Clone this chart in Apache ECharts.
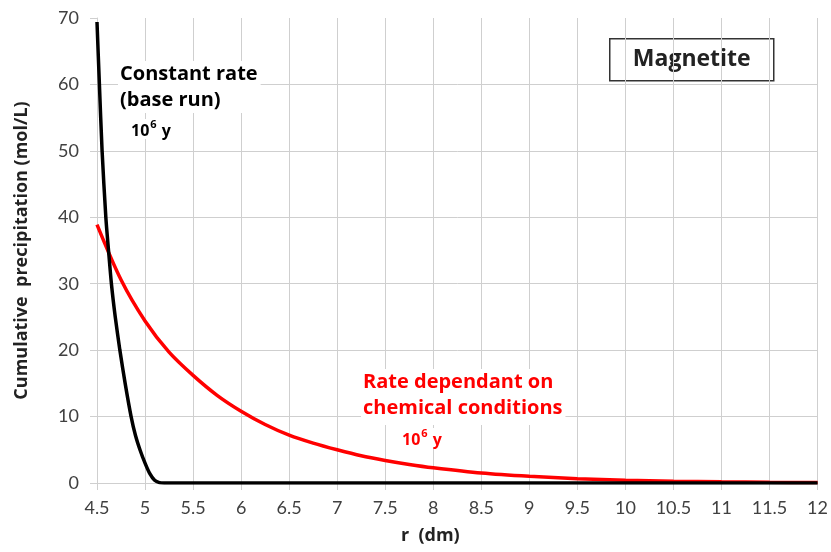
<!DOCTYPE html>
<html>
<head>
<meta charset="utf-8">
<script src="https://cdn.jsdelivr.net/npm/echarts@6/dist/echarts.min.js"></script>
<style>
  html, body { margin: 0; padding: 0; background: #fff; }
  #chart { width: 831px; height: 552px; }
</style>
</head>
<body>
<div id="chart"></div>
<script>
// r (dm) and cumulative precipitation (mol/L)
const rConstant = [4.5, 4.525, 4.553, 4.592, 4.62, 4.65, 4.69, 4.738, 4.793, 4.855, 4.9, 4.95, 5.0, 5.05, 5.1, 5.15, 5.2, 6, 8, 10, 12]
const constantRate = [69.4, 60, 50, 40, 35, 30, 25, 20, 15, 10, 7.2, 4.9, 3.0, 1.4, 0.4, 0.05, 0, 0, 0, 0, 0]

const rChemical = [4.5, 4.75, 5, 5.25, 5.5, 5.75, 6, 6.25, 6.5, 6.75, 7, 7.25, 7.5, 7.75, 8, 8.5, 9, 9.5, 10, 10.5, 11, 11.5, 12]
const chemicalRate = [38.9, 30.6, 24.4, 19.7, 16.2, 13.2, 10.8, 8.8, 7.2, 6.0, 5.0, 4.1, 3.4, 2.8, 2.3, 1.5, 1.0, 0.65, 0.42, 0.27, 0.17, 0.11, 0.07]

const xMin = 4.5, xMax = 12, xStep = 0.5
const yMin = 0, yMax = 70, yStep = 10

function pairs(xs, ys) {
  return xs.map((x, i) => [x, ys[i]])
}

const chart = echarts.init(document.getElementById('chart'))

const gridColor = '#cfcfcf'
const tickFont = { fontFamily: 'Lato', fontSize: 18, color: '#404040' }

// 10^6 y label with a raised exponent
function yearsLabel(color) {
  return {
    text: '{n|10}{s|6}{n| y}',
    rich: {
      n: { font: 'bold 16px "Open Sans"', fill: color, lineHeight: 20, verticalAlign: 'bottom' },
      s: { font: 'bold 11px "Open Sans"', fill: color, lineHeight: 20, verticalAlign: 'top', padding: [0, 1, 0, 1] }
    },
    backgroundColor: '#fff', padding: [0, 2, 0, 2]
  }
}

chart.setOption({
  animation: false,
  backgroundColor: '#fff',
  grid: { left: 97, right: 12, top: 18, bottom: 69 },
  xAxis: {
    type: 'value',
    min: xMin, max: xMax, interval: xStep,
    name: 'r  (dm)',
    nameLocation: 'middle',
    nameGap: 44,
    nameTextStyle: { fontFamily: 'Open Sans', fontWeight: 'bold', fontSize: 18, color: '#222', padding: [0, 54, 0, 0] },
    axisLine: { show: true, lineStyle: { color: gridColor, width: 1 } },
    axisTick: { show: true, length: 7, lineStyle: { color: gridColor } },
    axisLabel: Object.assign({ margin: 16 }, tickFont),
    splitLine: { show: true, lineStyle: { color: gridColor, width: 1 } }
  },
  yAxis: {
    type: 'value',
    min: yMin, max: yMax, interval: yStep,
    name: 'Cumulative  precipitation (mol/L)',
    nameLocation: 'middle',
    nameGap: 66,
    nameTextStyle: { fontFamily: 'Open Sans', fontWeight: 'bold', fontSize: 18, color: '#222' },
    axisLine: { show: true, lineStyle: { color: gridColor, width: 1 } },
    axisTick: { show: true, length: 7, lineStyle: { color: gridColor } },
    axisLabel: Object.assign({ margin: 18 }, tickFont),
    splitLine: { show: true, showMaxLine: false, lineStyle: { color: gridColor, width: 1 } }
  },
  series: [
    {
      name: 'Rate dependant on chemical conditions',
      type: 'line',
      data: pairs(rChemical, chemicalRate),
      smooth: 0.3,
      showSymbol: false,
      lineStyle: { color: '#ff0000', width: 3.5 },
      z: 3
    },
    {
      name: 'Constant rate (base run)',
      type: 'line',
      data: pairs(rConstant, constantRate),
      smooth: 0.25,
      showSymbol: false,
      lineStyle: { color: '#000', width: 3.5 },
      z: 4
    }
  ],
  graphic: [
    {
      type: 'text', left: 118, top: 61, z: 10,
      style: {
        text: 'Constant rate\n(base run)',
        font: 'bold 20px "Open Sans"',
        fill: '#000', lineHeight: 26,
        backgroundColor: '#fff', padding: [0, 3, 0, 2]
      }
    },
    {
      type: 'text', left: 129, top: 119, z: 10,
      style: yearsLabel('#000')
    },
    {
      type: 'text', left: 361, top: 369, z: 10,
      style: {
        text: 'Rate dependant on\nchemical conditions',
        font: 'bold 20px "Open Sans"',
        fill: '#ff0000', lineHeight: 26,
        backgroundColor: '#fff', padding: [0, 3, 4, 2]
      }
    },
    {
      type: 'text', left: 400, top: 428, z: 10,
      style: yearsLabel('#ff0000')
    },
    {
      type: 'group', left: 609, top: 38, z: 10,
      children: [
        {
          type: 'rect',
          shape: { x: 0, y: 0, width: 164, height: 42 },
          style: { fill: '#fff', stroke: '#333', lineWidth: 1.5 }
        },
        {
          type: 'text', x: 82, y: 21,
          style: {
            text: 'Magnetite',
            font: 'bold 23px "Open Sans"',
            fill: '#222', align: 'center', verticalAlign: 'middle'
          }
        }
      ]
    }
  ]
})
</script>
</body>
</html>
